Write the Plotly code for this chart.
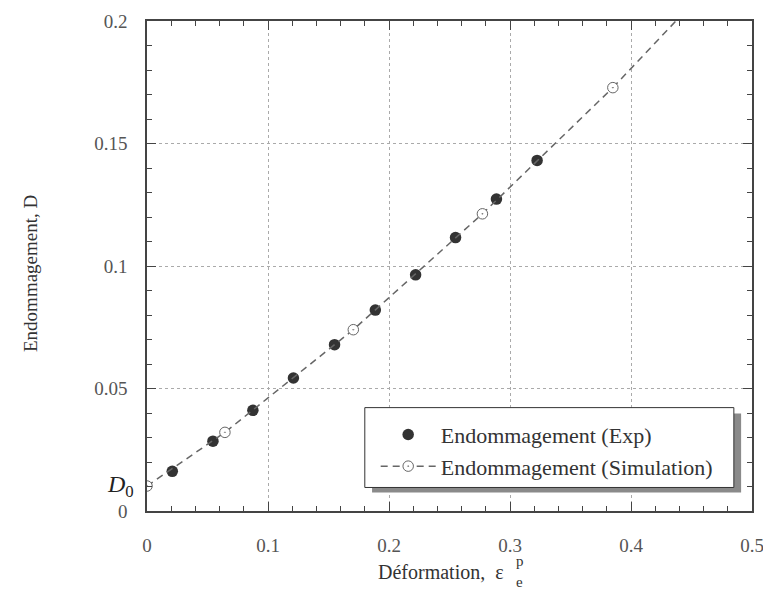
import plotly.graph_objects as go

exp_x = [0.0209, 0.0545, 0.0875, 0.121, 0.155, 0.1887, 0.222, 0.255, 0.2888, 0.3224]
exp_y = [0.0162, 0.0285, 0.0411, 0.0543, 0.0679, 0.0820, 0.0964, 0.1116, 0.1273, 0.1431]

# Simulation points (open circles) and the continuation of the dashed curve
sim_x = [0.0, 0.0644, 0.1705, 0.2772, 0.385]
sim_y = [0.0102, 0.0321, 0.074, 0.1213, 0.1728]
sim_ext_x = [0.385, 0.44]
sim_ext_y = [0.1728, 0.2015]

x_ticks = [0, 0.1, 0.2, 0.3, 0.4, 0.5]
x_tick_text = ["0", "0.1", "0.2", "0.3", "0.4", "0.5"]
y_ticks = [0, 0.05, 0.1, 0.15, 0.2]
y_tick_text = ["0", "0.05", "0.1", "0.15", "0.2"]

SERIF = "Liberation Serif, Times New Roman, serif"

fig = go.Figure()

fig.add_trace(go.Scatter(
    x=sim_ext_x, y=sim_ext_y, mode="lines", showlegend=False, hoverinfo="skip",
    line=dict(color="#666666", width=1.5, dash="7px,5px"),
))
fig.add_trace(go.Scatter(
    x=exp_x, y=exp_y, mode="markers", name="Endommagement (Exp)",
    legendgroup="a",
    marker=dict(symbol="circle", size=11.5, color="#333333", line=dict(width=0)),
))
fig.add_trace(go.Scatter(
    x=sim_x, y=sim_y, mode="lines+markers", name="Endommagement (Simulation)",
    legendgroup="b",
    line=dict(color="#666666", width=1.5, dash="7px,5px"),
    marker=dict(symbol="circle-dot", size=10.5, color="white",
                line=dict(color="#666666", width=1)),
))

axis_common = dict(
    showline=True, linecolor="#444444", linewidth=1.5, mirror="allticks",
    ticks="inside", ticklen=9, tickwidth=1, tickcolor="#444444",
    showgrid=True, gridcolor="#aaaaaa", gridwidth=1, griddash="dot",
    zeroline=False, ticklabeloverflow="allow",
    tickfont=dict(family=SERIF, size=19, color="#555555"),
)

fig.update_xaxes(
    range=[0, 0.5], tickmode="array", tickvals=x_ticks, ticktext=x_tick_text,
    minor=dict(dtick=0.02, ticks="inside", ticklen=5, tickcolor="#444444", showgrid=False),
    ticklabelstandoff=16,
    **axis_common,
)
fig.update_yaxes(
    range=[0, 0.2], tickmode="array", tickvals=y_ticks, ticktext=y_tick_text,
    minor=dict(dtick=0.01, ticks="inside", ticklen=5, tickcolor="#444444", showgrid=False),
    ticklabelstandoff=14,
    **axis_common,
)

# legend box with drop shadow
fig.add_shape(type="rect", xref="paper", yref="paper", layer="above",
              x0=0.372, x1=0.982, y0=0.038, y1=0.199,
              fillcolor="#8a8a8a", line=dict(width=0))
fig.add_shape(type="rect", xref="paper", yref="paper", layer="above",
              x0=0.360, x1=0.970, y0=0.048, y1=0.211,
              fillcolor="white", line=dict(color="#333333", width=1))

fig.add_annotation(text="<i>D</i><sub>0</sub>", xref="paper", yref="y",
                   x=-0.019, y=sim_y[0], xanchor="right", yanchor="middle",
                   showarrow=False, font=dict(family=SERIF, size=24, color="#222222"))
fig.add_annotation(text="Endommagement, D", xref="paper", yref="paper",
                   x=-0.213, y=0.485, textangle=-90, showarrow=False,
                   font=dict(family=SERIF, size=19, color="#333333"))
fig.add_annotation(text="Déformation,&nbsp; ε", xref="paper", yref="paper",
                   x=0.593, y=-0.125, xanchor="right", yanchor="middle", showarrow=False,
                   font=dict(family=SERIF, size=20, color="#333333"))
fig.add_annotation(text="p", xref="paper", yref="paper",
                   x=0.608, y=-0.102, xanchor="left", yanchor="middle", showarrow=False,
                   borderpad=0, font=dict(family=SERIF, size=15, color="#333333"))
fig.add_annotation(text="e", xref="paper", yref="paper",
                   x=0.608, y=-0.145, xanchor="left", yanchor="middle", showarrow=False,
                   borderpad=0, font=dict(family=SERIF, size=15, color="#333333"))

fig.update_layout(
    width=771, height=597,
    margin=dict(l=139, r=27, t=3, b=94),
    plot_bgcolor="white", paper_bgcolor="white",
    legend=dict(
        x=0.378, y=0.123, xanchor="left", yanchor="middle",
        bgcolor="rgba(0,0,0,0)", borderwidth=0,
        font=dict(family=SERIF, size=22, color="#333333"),
        itemwidth=55, traceorder="grouped", tracegroupgap=0,
    ),
)

fig.write_html("out.html")
